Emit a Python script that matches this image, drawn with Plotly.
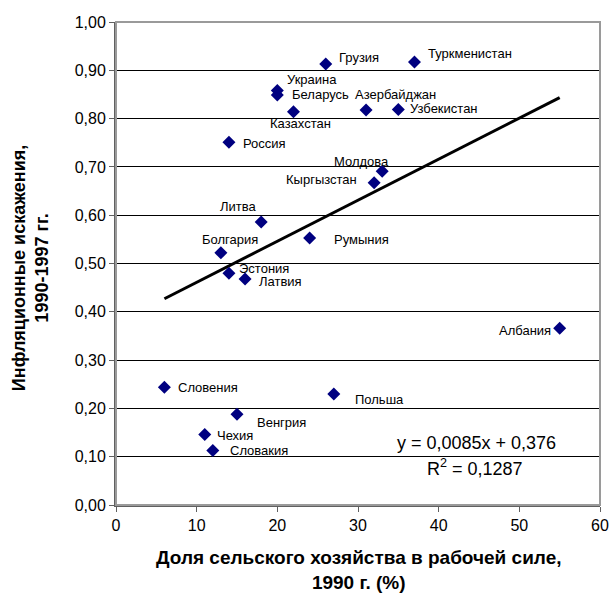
import plotly.graph_objects as go

# Share of agriculture in the labour force, 1990 (%), and inflation distortion index 1990-1997
countries = ["Грузия", "Туркменистан", "Украина", "Беларусь", "Азербайджан", "Узбекистан",
             "Казахстан", "Россия", "Молдова", "Кыргызстан", "Литва", "Румыния", "Болгария",
             "Эстония", "Латвия", "Албания", "Словения", "Польша", "Венгрия", "Чехия", "Словакия"]
agri_share = [26, 37, 20, 20, 31, 35, 22, 14, 33, 32, 18, 24, 13, 14, 16, 55, 6, 27, 15, 11, 12]
inflation = [0.913, 0.917, 0.858, 0.849, 0.818, 0.819, 0.814, 0.751, 0.691, 0.667, 0.586,
             0.553, 0.522, 0.480, 0.468, 0.366, 0.244, 0.230, 0.188, 0.146, 0.113]

# Linear trend as reported on the chart
slope, intercept, r2 = 0.0085, 0.376, 0.1287
trend_x = [min(agri_share), max(agri_share)]
trend_y = [slope * x + intercept for x in trend_x]

# Label placement (pixel offsets from the marker; anchor side)
label_style = {
    "Грузия": (11, 7, "left"), "Туркменистан": (12, 9, "left"), "Украина": (8, 11, "left"),
    "Беларусь": (13, 0, "left"), "Азербайджан": (-13, 15, "left"), "Узбекистан": (10, 1, "left"),
    "Казахстан": (-25, -12, "left"), "Россия": (12, -1, "left"), "Молдова": (-50, 10, "left"),
    "Кыргызстан": (-15, 3, "right"), "Литва": (-43, 15, "left"), "Румыния": (22, -2, "left"),
    "Болгария": (-21, 13, "left"), "Эстония": (8, 5, "left"), "Латвия": (12, -3, "left"),
    "Албания": (-7, -2, "right"), "Словения": (12, 0, "left"), "Польша": (19, -6, "left"),
    "Венгрия": (18, -8, "left"), "Чехия": (10, -1, "left"), "Словакия": (15, 0, "left"),
}

FONT = "Arial, Liberation Sans, sans-serif"

fig = go.Figure()
fig.add_trace(go.Scatter(
    x=trend_x, y=trend_y, mode="lines",
    line=dict(color="black", width=3), hoverinfo="skip", showlegend=False))
fig.add_trace(go.Scatter(
    x=agri_share, y=inflation, mode="markers", text=countries,
    marker=dict(symbol="diamond", size=10, color="#000080"), showlegend=False))

annotations = []
for name, xv, yv in zip(countries, agri_share, inflation):
    dx, dy, side = label_style[name]
    annotations.append(dict(
        x=xv, y=yv, xref="x", yref="y", text=name, showarrow=False,
        xanchor=side, yanchor="middle", xshift=dx, yshift=dy,
        font=dict(family=FONT, size=13, color="black")))

# Trend equation and R²
eq_text = "y = {:.4f}x + {:.3f}".format(slope, intercept).replace(".", ",")
r2_text = "R<sup>2</sup> = {:.4f}".format(r2).replace(".", ",")
annotations.append(dict(
    x=0.745, y=0.128, xref="x domain", yref="y domain",
    text=eq_text, showarrow=False, xanchor="center", yanchor="middle",
    font=dict(family=FONT, size=18, color="black")))
annotations.append(dict(
    x=0.742, y=0.078, xref="x domain", yref="y domain",
    text=r2_text, showarrow=False, xanchor="center", yanchor="middle",
    font=dict(family=FONT, size=18, color="black")))

# Axis titles
annotations.append(dict(
    x=-0.178, y=0.49, xref="x domain", yref="y domain", showarrow=False,
    text="<b>Инфляционные искажения,<br>1990-1997 гг.</b>", textangle=-90,
    xanchor="center", yanchor="middle",
    font=dict(family=FONT, size=18, color="black")))
annotations.append(dict(
    x=0.5, y=-0.134, xref="x domain", yref="y domain", showarrow=False,
    text="<b>Доля сельского хозяйства в рабочей силе,<br>1990 г. (%)</b>",
    xanchor="center", yanchor="middle",
    font=dict(family=FONT, size=19, color="black")))

fig.update_layout(
    width=613, height=602,
    margin=dict(l=116, r=13, t=22, b=97, autoexpand=False),
    paper_bgcolor="white", plot_bgcolor="white",
    separators=", ",
    font=dict(family=FONT, size=16, color="black"),
    annotations=annotations,
    shapes=[dict(type="rect", xref="x domain", yref="y domain", x0=0, y0=0, x1=1, y1=1,
                 line=dict(color="#9a9a9a", width=2), layer="above")],
)
fig.update_xaxes(
    range=[0, 60], dtick=10, tick0=0, showgrid=False, zeroline=False, automargin=False,
    showline=True, linecolor="#606060", linewidth=2,
    ticks="outside", ticklen=5, tickcolor="#606060", tickwidth=1,
    tickfont=dict(family=FONT, size=16, color="black"))
fig.update_yaxes(
    range=[0, 1], dtick=0.1, tick0=0, tickformat=".2f", zeroline=False, automargin=False,
    showgrid=True, gridcolor="black", gridwidth=1,
    showline=True, linecolor="#606060", linewidth=2,
    ticks="outside", ticklen=5, tickcolor="#606060", tickwidth=1,
    tickfont=dict(family=FONT, size=16, color="black"))

fig.write_html("out.html")
